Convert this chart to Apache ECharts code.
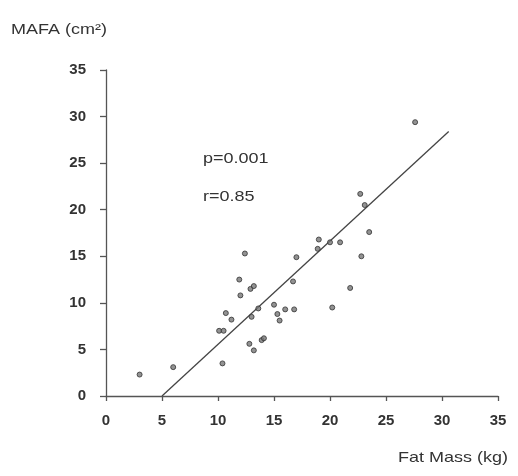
<!DOCTYPE html>
<html>
<head>
<meta charset="utf-8">
<script src="https://cdn.jsdelivr.net/npm/echarts@6/dist/echarts.min.js"></script>
<style>
  html, body { margin: 0; padding: 0; background: #fff; }
  #chart { width: 518px; height: 476px; }
</style>
</head>
<body>
<div id="chart"></div>
<script>
// fat mass (kg) vs MAFA (cm2)
var fatMass = [3.0, 6.0, 10.1, 10.5, 10.4, 10.7, 11.2, 11.9, 12.0, 12.4, 12.8, 12.9, 13.2, 13.0, 13.6, 13.2, 13.9, 14.1,
               15.0, 15.3, 15.5, 16.0, 16.8, 16.7, 17.0, 19.0, 18.9, 20.0, 20.9, 20.2, 21.8, 22.8, 23.5, 22.7, 23.1, 27.6];
var mafa    = [2.3, 3.1, 7.0, 7.0, 3.5, 8.9, 8.2, 12.5, 10.8, 15.3, 5.6, 11.5, 11.8, 8.5, 9.4, 4.9, 6.0, 6.2,
               9.8, 8.8, 8.1, 9.3, 9.3, 12.3, 14.9, 16.8, 15.8, 16.5, 16.5, 9.5, 11.6, 15.0, 17.6, 21.7, 20.5, 29.4];
// regression line end points (x, y)
var fitX = [5.0, 30.6];
var fitY = [0.0, 28.4];
var axisTicks = [0, 5, 10, 15, 20, 25, 30, 35];

var pts = fatMass.map(function (x, i) { return [x, mafa[i]]; });
var fit = fitX.map(function (x, i) { return [x, fitY[i]]; });

var myChart = echarts.init(document.getElementById('chart'));
var lblFont = {
    fontFamily: 'Liberation Sans, Arial, sans-serif',
    fontSize: 15,
    fontWeight: 'bold',
    color: '#333'
};
var option = {
    backgroundColor: '#fff',
    animation: false,
    grid: { left: 106, right: 20, top: 70, bottom: 80, outerBoundsMode: 'none' },
    xAxis: {
        type: 'value',
        min: axisTicks[0],
        max: axisTicks[axisTicks.length - 1],
        interval: 5,
        splitLine: { show: false },
        axisLine: { show: true, onZero: false, lineStyle: { color: '#555', width: 1.3 } },
        axisTick: { show: true, length: 5, lineStyle: { color: '#555', width: 1.3 } },
        axisLabel: Object.assign({ margin: 17 }, lblFont)
    },
    yAxis: {
        type: 'value',
        min: axisTicks[0],
        max: axisTicks[axisTicks.length - 1],
        interval: 5,
        splitLine: { show: false },
        axisLine: { show: true, onZero: false, lineStyle: { color: '#555', width: 1.3 } },
        axisTick: { show: true, length: 6, lineStyle: { color: '#555', width: 1.3 } },
        axisLabel: Object.assign({ margin: 20 }, lblFont)
    },
    graphic: [
        { type: 'text', left: 11, top: 22, scaleX: 1.2,
          style: { text: 'MAFA (cm²)', fontSize: 15, fontFamily: 'Liberation Sans, Arial, sans-serif', fill: '#333' } },
        { type: 'text', left: 398, top: 450, scaleX: 1.2,
          style: { text: 'Fat Mass (kg)', fontSize: 15, fontFamily: 'Liberation Sans, Arial, sans-serif', fill: '#333' } },
        { type: 'text', left: 203, top: 151, scaleX: 1.2,
          style: { text: 'p=0.001', fontSize: 15, fontFamily: 'Liberation Sans, Arial, sans-serif', fill: '#333' } },
        { type: 'text', left: 203, top: 189, scaleX: 1.2,
          style: { text: 'r=0.85', fontSize: 15, fontFamily: 'Liberation Sans, Arial, sans-serif', fill: '#333' } }
    ],
    series: [
        {
            name: 'fit',
            type: 'line',
            data: fit,
            symbol: 'none',
            lineStyle: { color: '#444', width: 1.3 },
            z: 2
        },
        {
            name: 'MAFA',
            type: 'scatter',
            data: pts,
            symbol: 'circle',
            symbolSize: 5,
            itemStyle: { color: '#777', borderColor: '#333', borderWidth: 1 },
            z: 3
        }
    ]
};
myChart.setOption(option);
</script>
</body>
</html>
